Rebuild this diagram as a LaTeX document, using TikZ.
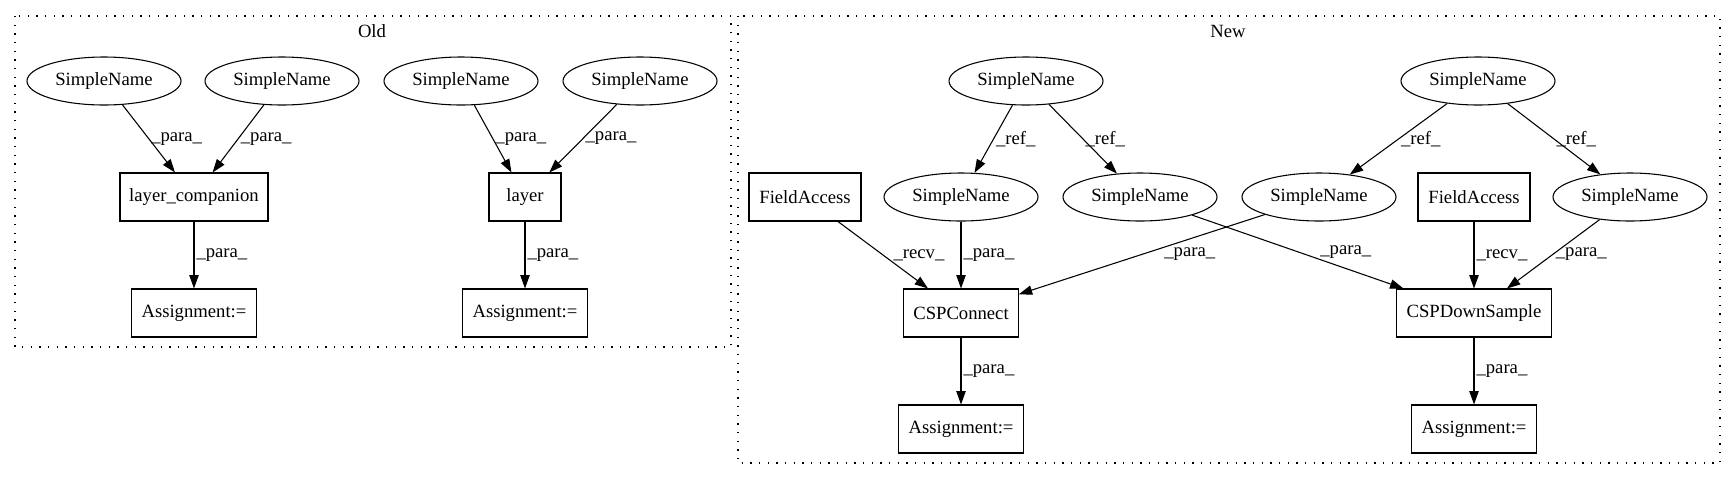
\documentclass[tikz,border=0pt]{standalone}
\usepackage{fontspec}
\setmainfont{Liberation Serif}
\usetikzlibrary{arrows.meta,shapes.geometric}

\begin{document}
\begin{tikzpicture}[x=0.75pt,y=-0.75pt,font=\fontsize{14pt}{16pt}\selectfont,
  sn/.style={ellipse,draw,line width=0.8pt,minimum width=115.5pt,minimum height=36pt,inner sep=0pt},
  op/.style={draw,line width=0.8pt,minimum height=36pt,inner sep=0pt},
  lbl/.style={inner sep=1.5pt},
  edge/.style={line width=0.8pt,-{Stealth[length=10pt,width=7pt,inset=0pt]}},
  grp/.style={line width=0.9pt,dash pattern=on 1pt off 5.5pt}]
  \useasboundingbox (0,0) rectangle (1735,480);
  % Old
  \draw[grp] (15,16) rectangle (731,347);
  \node (oldT) at (372,31) {Old};
  \node[sn] (snA1) at (104,81) {SimpleName};
  \node[sn] (snA2) at (282,81) {SimpleName};
  \node[sn] (snB1) at (461,81) {SimpleName};
  \node[sn] (snB2) at (640,81) {SimpleName};
  \node[op,minimum width=111pt] (lcomp) at (194,197) {layer\_companion};
  \node[op,minimum width=54pt] (layer) at (525,197) {layer};
  \node[op,minimum width=94pt] (asgA) at (194,313) {Assignment:=};
  \node[op,minimum width=94pt] (asgB) at (525,313) {Assignment:=};
  \draw[edge] (snA1) -- (lcomp) node[lbl,midway,right] {\_para\_};
  \draw[edge] (snA2) -- (lcomp) node[lbl,midway,right] {\_para\_};
  \draw[edge] (lcomp) -- (asgA) node[lbl,midway,right] {\_para\_};
  \draw[edge] (snB1) -- (layer) node[lbl,midway,right] {\_para\_};
  \draw[edge] (snB2) -- (layer) node[lbl,midway,right] {\_para\_};
  \draw[edge] (layer) -- (asgB) node[lbl,midway,right] {\_para\_};
  % New
  \draw[grp] (738,16) rectangle (1720,463);
  \node (newT) at (1228,31) {New};
  \node[sn] (snTopL) at (1026,81) {SimpleName};
  \node[sn] (snTopR) at (1478,81) {SimpleName};
  \node[op,minimum width=84pt] (faL) at (805,197) {FieldAccess};
  \node[sn] (snB) at (961,197) {SimpleName};
  \node[sn] (snC) at (1140,197) {SimpleName};
  \node[sn] (snD) at (1319,197) {SimpleName};
  \node[op,minimum width=84pt] (faR) at (1474,197) {FieldAccess};
  \node[sn] (snF) at (1630,197) {SimpleName};
  \node[op,minimum width=86pt] (cspc) at (961,313) {CSPConnect};
  \node[op,minimum width=116pt] (cspds) at (1474,313) {CSPDownSample};
  \node[op,minimum width=94pt] (asgC) at (961,429) {Assignment:=};
  \node[op,minimum width=94pt] (asgD) at (1474,429) {Assignment:=};
  \draw[edge] (snTopL) -- (snB) node[lbl,midway,right] {\_ref\_};
  \draw[edge] (snTopL) -- (snC) node[lbl,midway,right] {\_ref\_};
  \draw[edge] (snTopR) -- (snD) node[lbl,midway,right] {\_ref\_};
  \draw[edge] (snTopR) -- (snF) node[lbl,midway,right] {\_ref\_};
  \draw[edge] (faL) -- (cspc) node[lbl,midway,right,xshift=6pt] {\_recv\_};
  \draw[edge] (snB) -- (cspc) node[lbl,midway,right] {\_para\_};
  \draw[edge] (snD) -- (cspc) node[lbl,midway,right,xshift=15pt] {\_para\_};
  \draw[edge] (snC) -- (cspds) node[lbl,midway,right,xshift=15pt] {\_para\_};
  \draw[edge] (faR) -- (cspds) node[lbl,midway,right] {\_recv\_};
  \draw[edge] (snF) -- (cspds) node[lbl,midway,right] {\_para\_};
  \draw[edge] (cspc) -- (asgC) node[lbl,midway,right] {\_para\_};
  \draw[edge] (cspds) -- (asgD) node[lbl,midway,right] {\_para\_};
\end{tikzpicture}
\end{document}
